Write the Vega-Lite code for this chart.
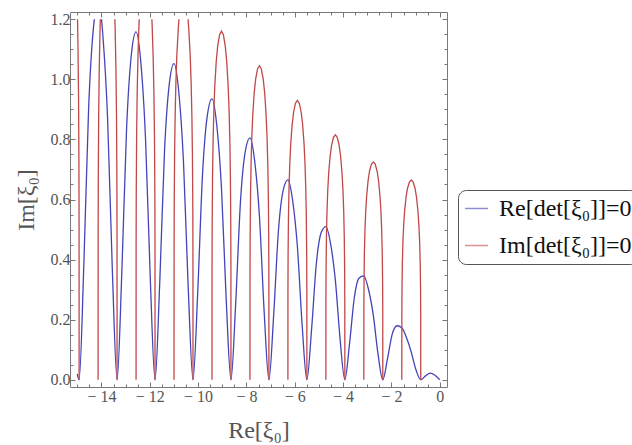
{
  "$schema": "https://vega.github.io/schema/vega-lite/v6.json",
  "width": 377,
  "height": 375,
  "autosize": {"type": "none"},
  "padding": {"left": 70, "top": 12, "right": 185, "bottom": 58},
  "background": "white",
  "config": {
    "view": {"stroke": "#7a7a7a", "strokeWidth": 1},
    "axis": {"grid": false, "domain": false, "labelFont": "Liberation Serif", "titleFont": "Liberation Serif", "labelFontSize": 16, "labelColor": "#555555", "titleColor": "#555555", "titleFontSize": 24, "titleFontWeight": "normal", "tickColor": "#777777", "tickWidth": 1}
  },
  "datasets": {
    "blue": [
      {"g":"b1","x":0,"y":0},{"g":"b1","x":-0.1963,"y":0.015},{"g":"b1","x":-0.3927,"y":0.022},{"g":"b1","x":-0.589,"y":0.013},{"g":"b1","x":-0.7854,"y":0},
      {"g":"b1","x":-0.9817,"y":0.0325},{"g":"b1","x":-1.1781,"y":0.0918},{"g":"b1","x":-1.3744,"y":0.1398},{"g":"b1","x":-1.5708,"y":0.173},
      {"g":"b1","x":-1.7671,"y":0.1798},{"g":"b1","x":-1.9635,"y":0.1529},{"g":"b1","x":-2.1598,"y":0.0714},{"g":"b1","x":-2.3562,"y":0},
      {"g":"b1","x":-2.5525,"y":0.0843},{"g":"b1","x":-2.7489,"y":0.2141},{"g":"b1","x":-2.9452,"y":0.2997},{"g":"b1","x":-3.1416,"y":0.346},
      {"g":"b1","x":-3.3379,"y":0.3386},{"g":"b1","x":-3.5343,"y":0.2736},{"g":"b1","x":-3.7306,"y":0.1222},{"g":"b1","x":-3.927,"y":0},
      {"g":"b1","x":-4.1233,"y":0.1345},{"g":"b1","x":-4.3197,"y":0.3316},{"g":"b1","x":-4.516,"y":0.4522},{"g":"b1","x":-4.7124,"y":0.51},
      {"g":"b1","x":-4.9087,"y":0.4891},{"g":"b1","x":-5.1051,"y":0.388},{"g":"b1","x":-5.3014,"y":0.1704},{"g":"b1","x":-5.4978,"y":0},
      {"g":"b1","x":-5.6941,"y":0.1821},{"g":"b1","x":-5.8905,"y":0.4428},{"g":"b1","x":-6.0868,"y":0.5965},{"g":"b1","x":-6.2832,"y":0.665},
      {"g":"b1","x":-6.4795,"y":0.6306},{"g":"b1","x":-6.6759,"y":0.495},{"g":"b1","x":-6.8722,"y":0.2153},{"g":"b1","x":-7.0686,"y":0},
      {"g":"b1","x":-7.2649,"y":0.2258},{"g":"b1","x":-7.4613,"y":0.5445},{"g":"b1","x":-7.6576,"y":0.7276},{"g":"b1","x":-7.854,"y":0.805},
      {"g":"b1","x":-8.0503,"y":0.7588},{"g":"b1","x":-8.2467,"y":0.5922},{"g":"b1","x":-8.443,"y":0.2561},{"g":"b1","x":-8.6394,"y":0},
      {"g":"b1","x":-8.8357,"y":0.2659},{"g":"b1","x":-9.0321,"y":0.6382},{"g":"b1","x":-9.2284,"y":0.8489},{"g":"b1","x":-9.4248,"y":0.935},
      {"g":"b1","x":-9.6211,"y":0.8773},{"g":"b1","x":-9.8175,"y":0.6819},{"g":"b1","x":-10.0138,"y":0.2937},{"g":"b1","x":-10.2102,"y":0},
      {"g":"b1","x":-10.4065,"y":0.3025},{"g":"b1","x":-10.6029,"y":0.7232},{"g":"b1","x":-10.7992,"y":0.9585},{"g":"b1","x":-10.9956,"y":1.052},
      {"g":"b1","x":-11.1919,"y":0.9842},{"g":"b1","x":-11.3883,"y":0.7626},{"g":"b1","x":-11.5846,"y":0.3276},{"g":"b1","x":-11.781,"y":0},
      {"g":"b1","x":-11.9773,"y":0.3356},{"g":"b1","x":-12.1737,"y":0.8001},{"g":"b1","x":-12.37,"y":1.0577},{"g":"b1","x":-12.5664,"y":1.158},
      {"g":"b1","x":-12.7627,"y":1.081},{"g":"b1","x":-12.9591,"y":0.8358},{"g":"b1","x":-13.1554,"y":0.3582},{"g":"b1","x":-13.3518,"y":0},
      {"g":"b1","x":-13.5481,"y":0.3654},{"g":"b1","x":-13.7445,"y":0.8697},{"g":"b1","x":-13.9408,"y":1.1475},{"g":"b1","x":-13.995,"y":1.2},
      {"g":"b2","x":-14.293,"y":1.2},{"g":"b2","x":-14.3335,"y":1.1685},{"g":"b2","x":-14.5299,"y":0.9019},{"g":"b2","x":-14.7262,"y":0.386},{"g":"b2","x":-14.9226,"y":0},{"g":"b2","x":-15.0,"y":0.02}
    ],
    "red": [
      {"g":"r1","x":-1.5708,"y":0},{"g":"r1","x":-1.5688,"y":0.2101},{"g":"r1","x":-1.5629,"y":0.2967},{"g":"r1","x":-1.5472,"y":0.3884},{"g":"r1","x":-1.5237,"y":0.4583},{"g":"r1","x":-1.4923,"y":0.5151},{"g":"r1","x":-1.453,"y":0.562},{"g":"r1","x":-1.3941,"y":0.6077},{"g":"r1","x":-1.3352,"y":0.6367},{"g":"r1","x":-1.2566,"y":0.6583},{"g":"r1","x":-1.1781,"y":0.665},{"g":"r1","x":-1.0996,"y":0.6583},{"g":"r1","x":-1.021,"y":0.6367},{"g":"r1","x":-0.9621,"y":0.6077},{"g":"r1","x":-0.9032,"y":0.562},{"g":"r1","x":-0.8639,"y":0.5151},{"g":"r1","x":-0.8325,"y":0.4583},{"g":"r1","x":-0.809,"y":0.3884},{"g":"r1","x":-0.7933,"y":0.2967},{"g":"r1","x":-0.7874,"y":0.2101},{"g":"r1","x":-0.7854,"y":0},
      {"g":"r2","x":-3.1416,"y":0},{"g":"r2","x":-3.1396,"y":0.2291},{"g":"r2","x":-3.1337,"y":0.3234},{"g":"r2","x":-3.118,"y":0.4235},{"g":"r2","x":-3.0945,"y":0.4997},{"g":"r2","x":-3.0631,"y":0.5616},{"g":"r2","x":-3.0238,"y":0.6127},{"g":"r2","x":-2.9649,"y":0.6626},{"g":"r2","x":-2.906,"y":0.6941},{"g":"r2","x":-2.8274,"y":0.7177},{"g":"r2","x":-2.7489,"y":0.725},{"g":"r2","x":-2.6704,"y":0.7177},{"g":"r2","x":-2.5918,"y":0.6941},{"g":"r2","x":-2.5329,"y":0.6626},{"g":"r2","x":-2.474,"y":0.6127},{"g":"r2","x":-2.4347,"y":0.5616},{"g":"r2","x":-2.4033,"y":0.4997},{"g":"r2","x":-2.3798,"y":0.4235},{"g":"r2","x":-2.3641,"y":0.3234},{"g":"r2","x":-2.3582,"y":0.2291},{"g":"r2","x":-2.3562,"y":0},
      {"g":"r3","x":-4.7124,"y":0},{"g":"r3","x":-4.7104,"y":0.2575},{"g":"r3","x":-4.7045,"y":0.3636},{"g":"r3","x":-4.6888,"y":0.476},{"g":"r3","x":-4.6653,"y":0.5617},{"g":"r3","x":-4.6339,"y":0.6313},{"g":"r3","x":-4.5946,"y":0.6888},{"g":"r3","x":-4.5357,"y":0.7448},{"g":"r3","x":-4.4768,"y":0.7803},{"g":"r3","x":-4.3982,"y":0.8068},{"g":"r3","x":-4.3197,"y":0.815},{"g":"r3","x":-4.2412,"y":0.8068},{"g":"r3","x":-4.1626,"y":0.7803},{"g":"r3","x":-4.1037,"y":0.7448},{"g":"r3","x":-4.0448,"y":0.6888},{"g":"r3","x":-4.0055,"y":0.6313},{"g":"r3","x":-3.9741,"y":0.5617},{"g":"r3","x":-3.9506,"y":0.476},{"g":"r3","x":-3.9349,"y":0.3636},{"g":"r3","x":-3.929,"y":0.2575},{"g":"r3","x":-3.927,"y":0},
      {"g":"r4","x":-6.2832,"y":0},{"g":"r4","x":-6.2812,"y":0.2939},{"g":"r4","x":-6.2753,"y":0.4149},{"g":"r4","x":-6.2596,"y":0.5432},{"g":"r4","x":-6.2361,"y":0.641},{"g":"r4","x":-6.2047,"y":0.7204},{"g":"r4","x":-6.1654,"y":0.7859},{"g":"r4","x":-6.1065,"y":0.8499},{"g":"r4","x":-6.0476,"y":0.8904},{"g":"r4","x":-5.969,"y":0.9206},{"g":"r4","x":-5.8905,"y":0.93},{"g":"r4","x":-5.812,"y":0.9206},{"g":"r4","x":-5.7334,"y":0.8904},{"g":"r4","x":-5.6745,"y":0.8499},{"g":"r4","x":-5.6156,"y":0.7859},{"g":"r4","x":-5.5763,"y":0.7204},{"g":"r4","x":-5.5449,"y":0.641},{"g":"r4","x":-5.5214,"y":0.5432},{"g":"r4","x":-5.5057,"y":0.4149},{"g":"r4","x":-5.4998,"y":0.2939},{"g":"r4","x":-5.4978,"y":0},
      {"g":"r5","x":-7.854,"y":0},{"g":"r5","x":-7.852,"y":0.3302},{"g":"r5","x":-7.8461,"y":0.4662},{"g":"r5","x":-7.8304,"y":0.6104},{"g":"r5","x":-7.8069,"y":0.7202},{"g":"r5","x":-7.7755,"y":0.8095},{"g":"r5","x":-7.7362,"y":0.8831},{"g":"r5","x":-7.6773,"y":0.955},{"g":"r5","x":-7.6184,"y":1.0005},{"g":"r5","x":-7.5398,"y":1.0345},{"g":"r5","x":-7.4613,"y":1.045},{"g":"r5","x":-7.3828,"y":1.0345},{"g":"r5","x":-7.3042,"y":1.0005},{"g":"r5","x":-7.2453,"y":0.955},{"g":"r5","x":-7.1864,"y":0.8831},{"g":"r5","x":-7.1471,"y":0.8095},{"g":"r5","x":-7.1157,"y":0.7202},{"g":"r5","x":-7.0922,"y":0.6104},{"g":"r5","x":-7.0765,"y":0.4662},{"g":"r5","x":-7.0706,"y":0.3302},{"g":"r5","x":-7.0686,"y":0},
      {"g":"r6","x":-9.4248,"y":0},{"g":"r6","x":-9.4228,"y":0.3666},{"g":"r6","x":-9.4169,"y":0.5175},{"g":"r6","x":-9.4012,"y":0.6776},{"g":"r6","x":-9.3777,"y":0.7995},{"g":"r6","x":-9.3463,"y":0.8985},{"g":"r6","x":-9.307,"y":0.9803},{"g":"r6","x":-9.2481,"y":1.0601},{"g":"r6","x":-9.1892,"y":1.1106},{"g":"r6","x":-9.1106,"y":1.1483},{"g":"r6","x":-9.0321,"y":1.16},{"g":"r6","x":-8.9536,"y":1.1483},{"g":"r6","x":-8.875,"y":1.1106},{"g":"r6","x":-8.8161,"y":1.0601},{"g":"r6","x":-8.7572,"y":0.9803},{"g":"r6","x":-8.7179,"y":0.8985},{"g":"r6","x":-8.6865,"y":0.7995},{"g":"r6","x":-8.663,"y":0.6776},{"g":"r6","x":-8.6473,"y":0.5175},{"g":"r6","x":-8.6414,"y":0.3666},{"g":"r6","x":-8.6394,"y":0},
      {"g":"r7a","x":-10.9956,"y":0},{"g":"r7a","x":-10.9936,"y":0.4045},{"g":"r7a","x":-10.9877,"y":0.571},{"g":"r7a","x":-10.972,"y":0.7476},{"g":"r7a","x":-10.9485,"y":0.8822},{"g":"r7a","x":-10.9171,"y":0.9915},{"g":"r7a","x":-10.8778,"y":1.0817},{"g":"r7a","x":-10.8189,"y":1.1698},{"g":"r7a","x":-10.7902,"y":1.2},
      {"g":"r7b","x":-10.4156,"y":1.2},{"g":"r7b","x":-10.3869,"y":1.1698},{"g":"r7b","x":-10.328,"y":1.0817},{"g":"r7b","x":-10.2887,"y":0.9915},{"g":"r7b","x":-10.2573,"y":0.8822},{"g":"r7b","x":-10.2338,"y":0.7476},{"g":"r7b","x":-10.2181,"y":0.571},{"g":"r7b","x":-10.2122,"y":0.4045},{"g":"r7b","x":-10.2102,"y":0},
      {"g":"r8a","x":-12.5664,"y":0},{"g":"r8a","x":-12.5644,"y":0.4392},{"g":"r8a","x":-12.5585,"y":0.6201},{"g":"r8a","x":-12.5428,"y":0.8119},{"g":"r8a","x":-12.5193,"y":0.958},{"g":"r8a","x":-12.4879,"y":1.0767},{"g":"r8a","x":-12.4486,"y":1.1747},{"g":"r8a","x":-12.4355,"y":1.2},
      {"g":"r8b","x":-11.9119,"y":1.2},{"g":"r8b","x":-11.8988,"y":1.1747},{"g":"r8b","x":-11.8595,"y":1.0767},{"g":"r8b","x":-11.8281,"y":0.958},{"g":"r8b","x":-11.8046,"y":0.8119},{"g":"r8b","x":-11.7889,"y":0.6201},{"g":"r8b","x":-11.783,"y":0.4392},{"g":"r8b","x":-11.781,"y":0},
      {"g":"r9a","x":-14.1372,"y":0},{"g":"r9a","x":-14.1352,"y":0.474},{"g":"r9a","x":-14.1293,"y":0.6692},{"g":"r9a","x":-14.1136,"y":0.8762},{"g":"r9a","x":-14.0901,"y":1.0338},{"g":"r9a","x":-14.0587,"y":1.1619},{"g":"r9a","x":-14.0462,"y":1.2},
      {"g":"r9b","x":-13.4428,"y":1.2},{"g":"r9b","x":-13.4303,"y":1.1619},{"g":"r9b","x":-13.3989,"y":1.0338},{"g":"r9b","x":-13.3754,"y":0.8762},{"g":"r9b","x":-13.3597,"y":0.6692},{"g":"r9b","x":-13.3538,"y":0.474},{"g":"r9b","x":-13.3518,"y":0},
      {"g":"r10b","x":-14.989,"y":1.2},{"g":"r10b","x":-14.9697,"y":1.11},{"g":"r10b","x":-14.9462,"y":0.94},{"g":"r10b","x":-14.9305,"y":0.718},{"g":"r10b","x":-14.9246,"y":0.509},{"g":"r10b","x":-14.9226,"y":0}
    ]
  },
  "layer": [
    {
      "data": {"name": "blue"},
      "mark": {"type": "line", "interpolate": "monotone", "strokeWidth": 1.3},
      "encoding": {
        "x": {"field": "x", "type": "quantitative", "scale": {"domain": [-15.3, 0.3], "nice": false, "zero": false},
          "axis": {"orient": "bottom", "values": [-15,-14.5,-14,-13.5,-13,-12.5,-12,-11.5,-11,-10.5,-10,-9.5,-9,-8.5,-8,-7.5,-7,-6.5,-6,-5.5,-5,-4.5,-4,-3.5,-3,-2.5,-2,-1.5,-1,-0.5,0],
            "labelExpr": "datum.value % 2 === 0 ? (datum.value < 0 ? '− ' + format(-datum.value, 'd') : '0') : ''",
            "tickSize": {"condition": {"test": "datum.value % 2 === 0", "value": -5}, "value": -3},
            "labelPadding": 6, "labelOverlap": false, "labelFlush": false, "title": "Re[ξ₀]", "titlePadding": 12}},
        "y": {"field": "y", "type": "quantitative", "scale": {"domain": [-0.024, 1.224], "nice": false, "zero": false},
          "axis": {"orient": "left", "values": [0,0.05,0.1,0.15,0.2,0.25,0.3,0.35,0.4,0.45,0.5,0.55,0.6,0.65,0.7,0.75,0.8,0.85,0.9,0.95,1,1.05,1.1,1.15,1.2],
            "labelExpr": "abs(datum.value*5 - round(datum.value*5)) < 0.001 ? format(datum.value, '.1f') : ''",
            "tickSize": {"condition": {"test": "abs(datum.value*5 - round(datum.value*5)) < 0.001", "value": -5}, "value": -3},
            "labelPadding": 5, "labelOverlap": false, "labelFlush": false, "title": "Im[ξ₀]", "titlePadding": 12}},
        "detail": {"field": "g"},
        "color": {"datum": "Re[det[ξ₀]]=0",
          "scale": {"domain": ["Re[det[ξ₀]]=0", "Im[det[ξ₀]]=0"], "range": ["#4444b8", "#c04848"]},
          "legend": {"orient": "none", "legendX": 388, "legendY": 178, "title": null, "strokeColor": "#555555", "cornerRadius": 8, "padding": 6, "fillColor": "white",
            "labelFont": "Liberation Serif", "labelFontSize": 24, "labelColor": "#111111", "labelLimit": 400, "labelOffset": 10,
            "symbolType": "stroke", "symbolSize": 529, "symbolStrokeWidth": 1.5, "symbolOpacity": 0.6, "rowPadding": 12}}
      }
    },
    {
      "data": {"name": "red"},
      "mark": {"type": "line", "strokeWidth": 1.3},
      "encoding": {
        "x": {"field": "x", "type": "quantitative",
          "axis": {"orient": "top", "values": [-15,-14.5,-14,-13.5,-13,-12.5,-12,-11.5,-11,-10.5,-10,-9.5,-9,-8.5,-8,-7.5,-7,-6.5,-6,-5.5,-5,-4.5,-4,-3.5,-3,-2.5,-2,-1.5,-1,-0.5,0],
            "labels": false, "title": null,
            "tickSize": {"condition": {"test": "datum.value % 2 === 0", "value": -5}, "value": -3}}},
        "y": {"field": "y", "type": "quantitative",
          "axis": {"orient": "right", "values": [0,0.05,0.1,0.15,0.2,0.25,0.3,0.35,0.4,0.45,0.5,0.55,0.6,0.65,0.7,0.75,0.8,0.85,0.9,0.95,1,1.05,1.1,1.15,1.2],
            "labels": false, "title": null,
            "tickSize": {"condition": {"test": "abs(datum.value*5 - round(datum.value*5)) < 0.001", "value": -5}, "value": -3}}},
        "detail": {"field": "g"},
        "color": {"datum": "Im[det[ξ₀]]=0"}
      }
    }
  ],
  "resolve": {"axis": {"x": "independent", "y": "independent"}}
}
